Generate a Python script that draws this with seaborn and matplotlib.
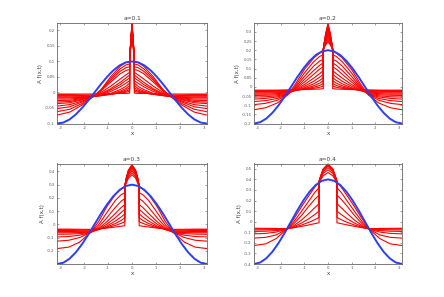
import numpy as np
import pandas as pd
import matplotlib
matplotlib.use('Agg')
import matplotlib.pyplot as plt
import seaborn as sns

# ---- data (right half; curves are mirrored about x=0) ----
a_values = [0.1, 0.2, 0.3, 0.4]

blue_x = [0, 0.2618, 0.5236, 0.7854, 1.0472, 1.309, 1.5708, 1.8326, 2.0944, 2.3562, 2.618, 2.8798, 3.1416]
blue_1 = [0.1, 0.097, 0.087, 0.071, 0.05, 0.026, 0.0, -0.026, -0.05, -0.071, -0.087, -0.097, -0.1]
blue_2 = [0.2, 0.193, 0.173, 0.141, 0.1, 0.052, 0.0, -0.052, -0.1, -0.141, -0.173, -0.193, -0.2]
blue_3 = [0.3, 0.29, 0.26, 0.212, 0.15, 0.078, 0.0, -0.078, -0.15, -0.212, -0.26, -0.29, -0.2995]
blue_4 = [0.4, 0.386, 0.346, 0.283, 0.2, 0.104, 0.0, -0.104, -0.2, -0.283, -0.346, -0.386, -0.4]

# a = 0.1
p1_xin = [0, 0.05, 0.08, 0.1]
p1_xout = [0.1, 0.25, 0.5, 0.9, 1.3, 1.62, 2.1, 2.6, 3.1416]
p1_peak = [0.224, 0.222, 0.221, 0.219, 0.218, 0.216, 0.214, 0.212, 0.21, 0.208, 0.206, 0.204, 0.202, 0.2]
p1_mid = [0.168, 0.167, 0.166, 0.165, 0.164, 0.163, 0.161, 0.159, 0.157, 0.155, 0.153, 0.151, 0.149, 0.147]
p1_shoulder = [0.132, 0.132, 0.131, 0.131, 0.13, 0.13, 0.129, 0.128, 0.127, 0.126, 0.125, 0.124, 0.122, 0.12]
p1_top = [0.11, 0.11, 0.11, 0.11, 0.11, 0.11, 0.11, 0.108, 0.107, 0.106, 0.105, 0.103, 0.102, 0.1]
p1_out = [
    [-0.002, -0.003, -0.003, -0.004, -0.004, -0.005, -0.005, -0.005, -0.005],
    [0.004, 0.001, -0.002, -0.005, -0.007, -0.008, -0.008, -0.007, -0.007],
    [0.009, 0.004, -0.001, -0.006, -0.009, -0.011, -0.01, -0.009, -0.009],
    [0.015, 0.008, 0.001, -0.006, -0.01, -0.012, -0.012, -0.011, -0.011],
    [0.022, 0.013, 0.004, -0.005, -0.01, -0.013, -0.014, -0.014, -0.014],
    [0.03, 0.02, 0.009, -0.003, -0.01, -0.013, -0.016, -0.017, -0.017],
    [0.038, 0.03, 0.018, 0.003, -0.008, -0.013, -0.018, -0.021, -0.021],
    [0.047, 0.039, 0.025, 0.008, -0.006, -0.013, -0.02, -0.025, -0.026],
    [0.056, 0.047, 0.032, 0.012, -0.004, -0.013, -0.022, -0.029, -0.031],
    [0.065, 0.057, 0.043, 0.02, 0.0, -0.013, -0.024, -0.033, -0.036],
    [0.074, 0.071, 0.06, 0.033, 0.005, -0.013, -0.028, -0.039, -0.044],
    [0.083, 0.08, 0.068, 0.039, 0.006, -0.013, -0.031, -0.046, -0.052],
    [0.092, 0.089, 0.076, 0.044, 0.008, -0.013, -0.036, -0.054, -0.062],
    [0.1, 0.097, 0.084, 0.05, 0.009, -0.013, -0.041, -0.063, -0.073],
]

# a = 0.2
p2_xin = [0, 0.1, 0.16, 0.2]
p2_xout = [0.2, 0.35, 0.6, 1.0, 1.4, 1.72, 2.15, 2.65, 3.1416]
p2_peak = [0.345, 0.34, 0.332, 0.324, 0.315, 0.305, 0.295, 0.285, 0.275, 0.265, 0.255, 0.245]
p2_mid = [0.29, 0.287, 0.283, 0.279, 0.274, 0.268, 0.262, 0.256, 0.249, 0.242, 0.235, 0.228]
p2_shoulder = [0.24, 0.239, 0.238, 0.237, 0.235, 0.233, 0.231, 0.228, 0.225, 0.222, 0.219, 0.215]
p2_top = [0.205, 0.205, 0.205, 0.205, 0.205, 0.204, 0.203, 0.202, 0.201, 0.2, 0.198, 0.195]
p2_out = [
    [-0.01, -0.012, -0.013, -0.015, -0.016, -0.017, -0.018, -0.018, -0.018],
    [0.004, -0.002, -0.008, -0.013, -0.017, -0.019, -0.02, -0.021, -0.021],
    [0.018, 0.008, -0.002, -0.012, -0.019, -0.022, -0.024, -0.025, -0.025],
    [0.034, 0.02, 0.006, -0.01, -0.02, -0.025, -0.028, -0.029, -0.029],
    [0.05, 0.035, 0.017, -0.005, -0.021, -0.029, -0.032, -0.034, -0.034],
    [0.068, 0.053, 0.031, 0.003, -0.02, -0.033, -0.037, -0.04, -0.04],
    [0.088, 0.073, 0.048, 0.013, -0.018, -0.036, -0.043, -0.046, -0.047],
    [0.11, 0.097, 0.069, 0.026, -0.014, -0.038, -0.049, -0.054, -0.056],
    [0.13, 0.118, 0.09, 0.04, -0.01, -0.04, -0.055, -0.063, -0.067],
    [0.15, 0.141, 0.114, 0.057, -0.005, -0.042, -0.063, -0.075, -0.08],
    [0.175, 0.166, 0.138, 0.076, 0.002, -0.043, -0.073, -0.09, -0.097],
    [0.195, 0.185, 0.158, 0.095, 0.012, -0.045, -0.088, -0.114, -0.125],
]

# a = 0.3
p3_xin = [0, 0.15, 0.24, 0.3]
p3_xout = [0.3, 0.45, 0.7, 1.05, 1.4, 1.74, 2.2, 2.65, 3.1416]
p3_peak = [0.45, 0.447, 0.443, 0.436, 0.428, 0.418, 0.405, 0.39, 0.375]
p3_mid = [0.41, 0.408, 0.405, 0.4, 0.393, 0.385, 0.375, 0.362, 0.35]
p3_shoulder = [0.35, 0.349, 0.347, 0.344, 0.34, 0.335, 0.328, 0.32, 0.31]
p3_top = [0.29, 0.29, 0.29, 0.29, 0.29, 0.29, 0.29, 0.288, 0.285]
p3_out = [
    [-0.01, -0.014, -0.02, -0.028, -0.034, -0.038, -0.037, -0.036, -0.036],
    [0.02, 0.008, -0.008, -0.025, -0.036, -0.043, -0.042, -0.04, -0.04],
    [0.05, 0.03, 0.006, -0.02, -0.038, -0.049, -0.048, -0.046, -0.046],
    [0.08, 0.056, 0.025, -0.012, -0.04, -0.055, -0.055, -0.054, -0.054],
    [0.115, 0.09, 0.05, 0.002, -0.038, -0.06, -0.062, -0.063, -0.063],
    [0.15, 0.128, 0.082, 0.02, -0.032, -0.062, -0.07, -0.074, -0.075],
    [0.195, 0.176, 0.128, 0.05, -0.02, -0.062, -0.082, -0.092, -0.095],
    [0.24, 0.225, 0.18, 0.09, -0.003, -0.062, -0.1, -0.12, -0.127],
    [0.285, 0.268, 0.225, 0.135, 0.02, -0.062, -0.135, -0.172, -0.183],
]

# a = 0.4
p4_xin = [0, 0.2, 0.3, 0.38]
p4_xout = [0.38, 0.55, 0.8, 1.1, 1.45, 1.75, 2.2, 2.65, 3.1416]
p4_peak = [0.545, 0.542, 0.536, 0.525, 0.51, 0.49, 0.465]
p4_mid = [0.5, 0.498, 0.494, 0.486, 0.474, 0.458, 0.435]
p4_shoulder = [0.44, 0.439, 0.436, 0.431, 0.424, 0.414, 0.4]
p4_top = [0.38, 0.38, 0.38, 0.38, 0.378, 0.374, 0.37]
p4_out = [
    [-0.01, -0.018, -0.03, -0.043, -0.057, -0.066, -0.064, -0.063, -0.062],
    [0.04, 0.02, -0.005, -0.03, -0.054, -0.068, -0.068, -0.068, -0.068],
    [0.1, 0.07, 0.03, -0.01, -0.048, -0.07, -0.075, -0.077, -0.078],
    [0.17, 0.135, 0.08, 0.02, -0.038, -0.07, -0.084, -0.09, -0.092],
    [0.25, 0.215, 0.15, 0.065, -0.02, -0.07, -0.098, -0.111, -0.115],
    [0.32, 0.28, 0.2, 0.105, 0.0, -0.07, -0.125, -0.148, -0.155],
    [0.37, 0.33, 0.25, 0.15, 0.025, -0.07, -0.16, -0.21, -0.225],
]

ylims = [(-0.1, 0.225), (-0.2, 0.35), (-0.2995, 0.46), (-0.4, 0.55)]
yticks = [
    [-0.1, -0.05, 0, 0.05, 0.1, 0.15, 0.2],
    [-0.2, -0.15, -0.1, -0.05, 0, 0.05, 0.1, 0.15, 0.2, 0.25, 0.3],
    [-0.2, -0.1, 0, 0.1, 0.2, 0.3, 0.4],
    [-0.4, -0.3, -0.2, -0.1, 0, 0.1, 0.2, 0.3, 0.4, 0.5],
]
xticks = [-3, -2, -1, 0, 1, 2, 3]


def mirror(xh, yh):
    x = [-v for v in xh[::-1]] + list(xh[1:])
    y = list(yh[::-1]) + list(yh[1:])
    return x, y


def red_frame(xin, xout, peak, mid, shoulder, top, out):
    rows = []
    for k in range(len(out)):
        xh = list(xin) + list(xout)
        yh = [peak[k], mid[k], shoulder[k], top[k]] + list(out[k])
        x, y = mirror(xh, yh)
        for i in range(len(x)):
            rows.append({'x': x[i], 'y': y[i], 'curve': k})
    return pd.DataFrame(rows)


panels = [
    (p1_xin, p1_xout, p1_peak, p1_mid, p1_shoulder, p1_top, p1_out, blue_1),
    (p2_xin, p2_xout, p2_peak, p2_mid, p2_shoulder, p2_top, p2_out, blue_2),
    (p3_xin, p3_xout, p3_peak, p3_mid, p3_shoulder, p3_top, p3_out, blue_3),
    (p4_xin, p4_xout, p4_peak, p4_mid, p4_shoulder, p4_top, p4_out, blue_4),
]

sns.set_style('ticks', {'xtick.direction': 'in', 'ytick.direction': 'in',
                        'axes.edgecolor': '0.4'})
plt.rcParams['font.family'] = ['DejaVu Sans']

W, H = 444, 297
fig = plt.figure(figsize=(W / 100, H / 100), dpi=100)
boxes = [(57, 22.7, 207, 123.5), (254, 22.7, 402, 123.5),
         (57, 163.5, 207, 264), (254, 163.5, 402, 264)]

for i, (xin, xout, peak, mid, shoulder, top, out, blue) in enumerate(panels):
    l, t, r, b = boxes[i]
    ax = fig.add_axes([l / W, 1 - b / H, (r - l) / W, (b - t) / H])
    df = red_frame(xin, xout, peak, mid, shoulder, top, out)
    sns.lineplot(data=df, x='x', y='y', units='curve', estimator=None, sort=False,
                 color='#ff0000', lw=0.8, ax=ax, legend=False)
    bx, by = mirror(blue_x, blue)
    sns.lineplot(x=bx, y=by, sort=False, estimator=None, color='#2b3ff5', lw=1.4, ax=ax)
    ax.set_xlim(-np.pi, np.pi)
    ax.set_ylim(*ylims[i])
    ax.set_xticks(xticks)
    ax.set_xticklabels(['%g' % v for v in xticks])
    ax.set_yticks(yticks[i])
    ax.set_yticklabels(['%g' % v for v in yticks[i]])
    ax.tick_params(labelsize=2.8, length=1.5, width=0.4, colors='0.35',
                   top=True, right=True, pad=1.5)
    for s in ax.spines.values():
        s.set_linewidth(0.6)
        s.set_visible(True)
    ax.set_title('a=%g' % a_values[i], fontsize=4.2, pad=2, color='0.25')
    ax.set_xlabel('x', fontsize=4, labelpad=1, color='0.25')
    ax.set_ylabel('A f(x,t)', fontsize=4, labelpad=1.5, color='0.25')

fig.savefig('out.png', dpi=100)
